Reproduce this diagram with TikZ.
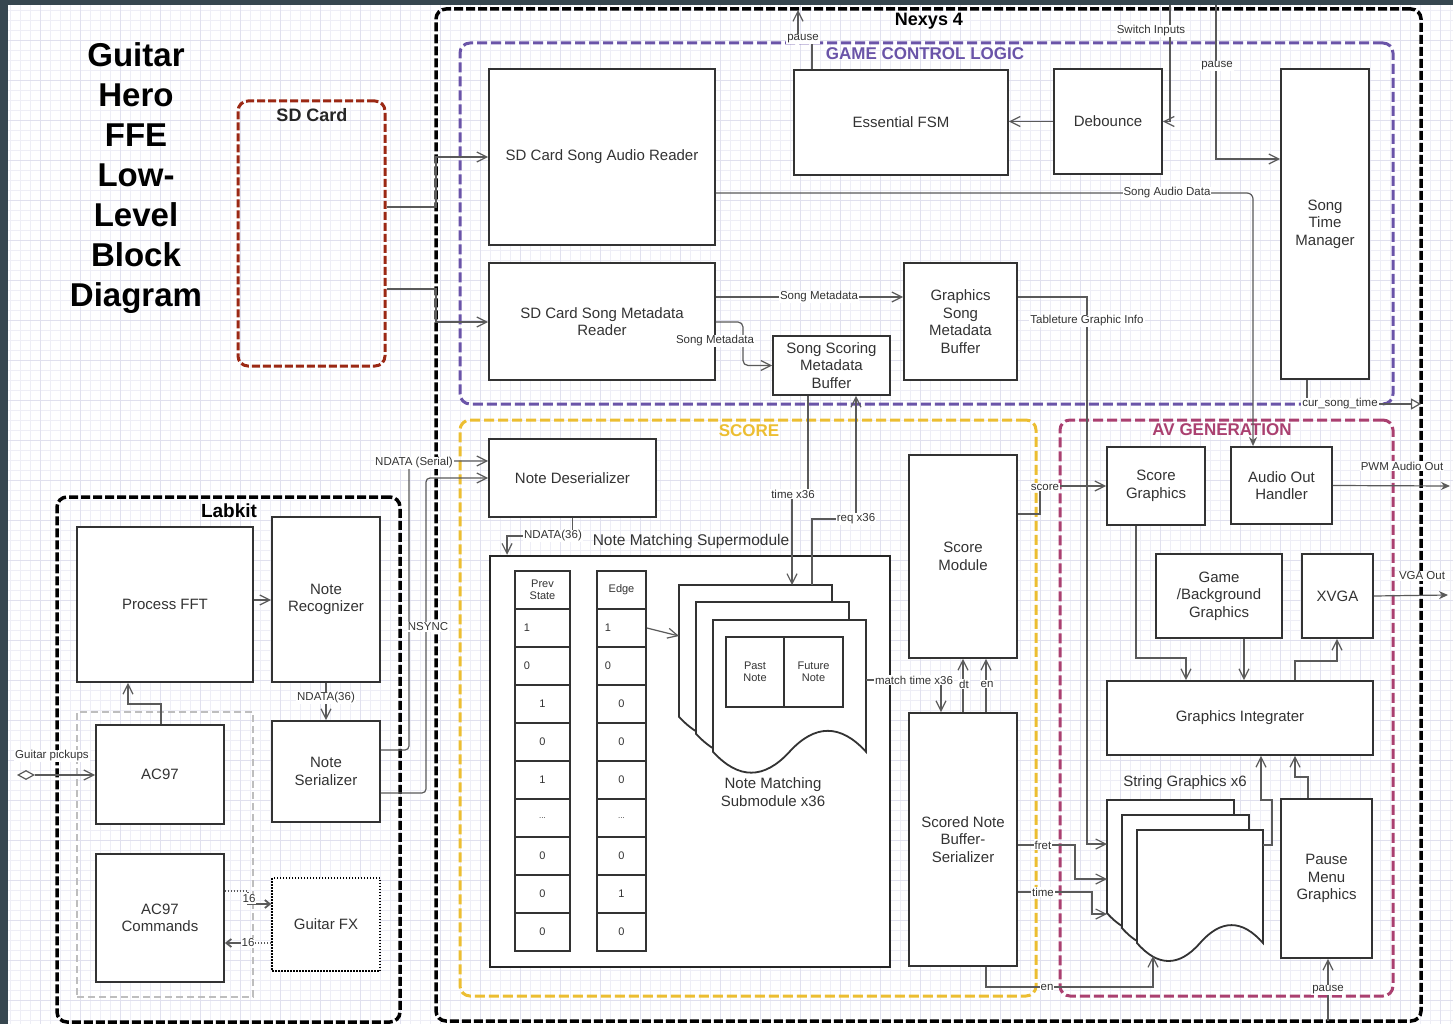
\documentclass[tikz,border=0pt]{standalone}
\usepackage{fontspec}
\setmainfont{Liberation Sans}
\usetikzlibrary{arrows.meta,shapes.geometric}

\definecolor{frame}{RGB}{55,71,79}
\definecolor{gridmin}{RGB}{238,238,246}
\definecolor{gridmaj}{RGB}{224,224,238}
\definecolor{boxc}{RGB}{51,51,51}
\definecolor{wirec}{RGB}{90,90,90}
\definecolor{txt}{RGB}{51,51,51}
\definecolor{gclc}{RGB}{106,84,168}
\definecolor{scorec}{RGB}{236,190,50}
\definecolor{avc}{RGB}{170,64,112}
\definecolor{sdc}{RGB}{155,40,20}
\definecolor{labgray}{RGB}{190,190,190}

% document shape with a wavy bottom: x1, y1, x2, y2
\newcommand{\wavedoc}[4]{%
  \pgfmathsetmacro{\wdw}{#3-#1}%
  \pgfmathsetmacro{\wddy}{0.3*(#4-#2)}%
  \pgfmathsetmacro{\wde}{#4-0.5*\wddy}%
  \pgfmathsetmacro{\wdm}{(#1+#3)/2}%
  \filldraw[doc] (#1,#2) -- (#3,#2) -- (#3,\wde)
    .. controls ({#3-\wdw/6},{\wde-0.6*\wddy}) and ({\wdm+\wdw/6},{\wde-0.6*\wddy}) .. (\wdm,\wde)
    .. controls ({\wdm-\wdw/6},{\wde+0.6*\wddy}) and ({#1+\wdw/6},{\wde+0.6*\wddy}) .. (#1,\wde) -- cycle;}
\newcommand{\celldots}{\fontsize{8}{9}\selectfont...}

\begin{document}
\begin{tikzpicture}[x=1pt, y=-1pt,
  box/.style={draw=boxc, line width=1.8pt, fill=white, text=txt,
              align=center, inner sep=2pt, font=\fontsize{15}{17.5}\selectfont},
  sz/.style 2 args={minimum width=#1, minimum height=#2},
  grp/.style={draw, rounded corners=10pt, line width=3pt, inner sep=0pt,
              dash pattern=on 10pt off 4pt},
  cell/.style={draw=boxc, line width=1.8pt, fill=white, minimum height=38,
               inner sep=0pt, text=txt, align=center, font=\fontsize{11}{12.5}\selectfont},
  val/.style={font=\fontsize{11}{13}\selectfont, text=txt, inner sep=0pt},
  doc/.style={draw=boxc, line width=1.8pt, fill=white},
  wire/.style={draw=wirec, line width=1.2pt},
  arr/.style={-{Straight Barb[length=10pt,width=10pt]}},
  arrs/.style={-{Stealth[length=9pt,width=8pt]}},
  arrb/.style={-{Straight Barb[length=5pt,width=8pt,line width=1.8pt]}},
  dots/.style={dash pattern=on 1.5pt off 1.5pt},
  lbl/.style={font=\fontsize{11.5}{13}\selectfont, text=txt, fill=white, inner sep=1pt},
  gtitle/.style={font=\fontsize{17}{20}\selectfont\bfseries},
  ttl/.style={font=\fontsize{33}{40}\selectfont\bfseries, align=center}
]
  % background
  \useasboundingbox (0,0) rectangle (1453,1024);
  \fill[white] (0,0) rectangle (1453,1024);
  \draw[gridmin, line width=0.6pt, step=10pt] (0,0) grid (1453,1024);
  \draw[gridmaj, line width=0.7pt, step=40pt] (0,0) grid (1453,1024);
  \fill[frame] (0,0) rectangle (8,1024);
  \fill[frame] (0,0) rectangle (1453,5);

  \node[ttl] (title) at (136,178) {Guitar\\Hero\\FFE\\Low-\\Level\\Block\\Diagram};

  % groups
  \node[grp, draw=black, line width=3.5pt, dash pattern=on 9pt off 3pt, sz={985}{1012}] (nexys) at (928.5,515) {};
  \node[grp, draw=gclc, sz={933}{361}] (gcl) at (926.5,223.5) {};
  \node[grp, draw=scorec, sz={576}{576}] (score) at (748,708) {};
  \node[grp, draw=avc, sz={333}{576}] (av) at (1226.5,708) {};
  \node[grp, draw=black, line width=3.5pt, dash pattern=on 9pt off 3pt, sz={343}{525}] (labkit) at (228.5,759.5) {};
  \node[grp, draw=sdc, dash pattern=on 8pt off 3pt, sz={147}{265}] (sd) at (311.5,233.5) {};
  \node[draw=labgray, line width=1.5pt, dash pattern=on 7pt off 4pt, inner sep=0pt, sz={176}{285}] (acgrp) at (165,854.5) {};

  \node[font=\fontsize{18}{20}\selectfont\bfseries] (nxt) at (929,21) {Nexys 4};
  \node[gtitle, text=gclc] (gclt) at (925,54) {GAME CONTROL LOGIC};
  \node[gtitle, text=scorec] (sct) at (749,431) {SCORE};
  \node[gtitle, text=avc] (avt) at (1222,430) {AV GENERATION};
  \node[font=\fontsize{19}{20}\selectfont\bfseries] (lbt) at (229,511) {Labkit};
  \node[font=\fontsize{18}{20}\selectfont\bfseries, text=black!85] (sdt) at (312,115) {SD Card};

  % game control logic
  \node[box, sz={226}{176}] (audrd) at (602,157) {SD Card Song Audio Reader};
  \node[box, sz={226}{117}] (metard) at (602,321.5) {SD Card Song Metadata\\Reader};
  \node[box, sz={214}{105}] (fsm) at (901,122.5) {Essential FSM};
  \node[box, sz={108}{105}] (deb) at (1108,121.5) {Debounce};
  \node[box, sz={88}{310}] (stm) at (1325,224) {Song\\Time\\Manager};
  \node[box, sz={113}{117}] (gsmb) at (960.5,321.5) {Graphics\\Song\\Metadata\\Buffer};
  \node[box, sz={117}{59}] (ssmb) at (831.5,365.5) {Song Scoring\\Metadata\\Buffer};

  % score
  \node[box, sz={167}{78}] (deser) at (572.5,478) {Note Deserializer};
  \node[box, draw=black!85, line width=2.5pt, sz={400}{411}] (nms) at (690,761.5) {};
  \node[font=\fontsize{15.5}{18}\selectfont, text=txt] (nmst) at (691,541) {Note Matching Supermodule};
  \node[box, sz={108}{203}] (scm) at (963,556.5) {Score\\Module};
  \node[box, sz={108}{253}] (snb) at (963,839.5) {Scored Note\\Buffer-\\Serializer};

  \node[cell, minimum width=55] (ph) at (542.5,590) {Prev\\State};
  \node[cell, minimum width=49] (eh) at (621.5,590) {Edge};
  \foreach \pv/\ev [count=\i] in {1/1,0/0,1/0,0/0,1/0,\celldots/\celldots,0/0,0/1,0/0}{
    \pgfmathsetmacro\cy{590+38*\i}
    \node[cell, minimum width=55] (p\i) at (542.5,\cy) {};
    \node[cell, minimum width=49] (e\i) at (621.5,\cy) {};
    \ifnum\i<3
      \node[val] (pv\i) at (527,\cy) {\pv};
      \node[val] (ev\i) at (608,\cy) {\ev};
    \else
      \node[val] (pv\i) at (542.5,\cy) {\pv};
      \node[val] (ev\i) at (621.5,\cy) {\ev};
    \fi
  }

  \wavedoc{679}{585}{832}{740}
  \wavedoc{696}{602}{849}{757}
  \wavedoc{713}{620}{866}{775}
  \node[box, sz={58}{70}, font=\fontsize{11}{12.5}\selectfont] (past) at (755,672) {Past\\Note};
  \node[box, sz={59}{70}, font=\fontsize{11}{12.5}\selectfont] (fut) at (813.5,672) {Future\\Note};
  \node[font=\fontsize{15}{17.5}\selectfont, text=txt, align=center] (nmsub) at (773,792) {Note Matching\\Submodule x36};
  \coordinate (subtop) at (792,585);
  \coordinate (subreq) at (812,585);
  \coordinate (subin) at (679,636);
  \coordinate (subout) at (866,680);

  % av generation
  \node[box, sz={98}{78}] (scg) at (1156,486) {Score\\Graphics};
  \node[box, sz={101}{77}] (aoh) at (1281.5,485.5) {Audio Out\\Handler};
  \node[box, sz={126}{84}] (gbg) at (1219,596) {Game\\/Background\\Graphics};
  \node[box, sz={71}{84}] (xvga) at (1337.5,596) {XVGA};
  \node[box, sz={266}{74}] (gint) at (1240,718) {Graphics Integrater};
  \node[box, sz={91}{159}] (pmg) at (1326.5,878.5) {Pause\\Menu\\Graphics};
  \wavedoc{1107}{800}{1234}{933}
  \wavedoc{1122}{815}{1249}{948}
  \wavedoc{1137}{830}{1263}{963}
  \node[font=\fontsize{15}{17.5}\selectfont, text=txt] (sgt) at (1185,783) {String Graphics x6};
  \coordinate (sgin) at (1107,844);
  \coordinate (sgfret) at (1107,879);
  \coordinate (sgtime) at (1107,914);
  \coordinate (sgen) at (1153,956);
  \coordinate (sgout) at (1263,845);

  % labkit
  \node[box, sz={176}{155}] (fft) at (165,604.5) {Process FFT};
  \node[box, sz={108}{165}] (nrec) at (326,599.5) {Note\\Recognizer};
  \node[box, sz={128}{99}] (ac97) at (160,774.5) {AC97};
  \node[box, sz={128}{128}] (ac97c) at (160,918) {AC97\\Commands};
  \node[box, sz={108}{101}] (nser) at (326,771.5) {Note\\Serializer};
  \node[box, draw=black, line width=1.5pt, dots, sz={108}{93}] (gfx) at (326,924.5) {Guitar FX};
  \node[diamond, draw=wirec, line width=1.2pt, fill=white, aspect=1.8,
        minimum width=16, minimum height=9, inner sep=0pt] (gp) at (26,775) {};

  % free ends
  \coordinate (swin) at (1170,5);
  \coordinate (pin) at (1216,5);
  \coordinate (pout) at (798,10);
  \coordinate (cst) at (1421,404);
  \coordinate (pbot) at (1328,1021);
  \coordinate (pwm) at (1450,486);
  \coordinate (vga) at (1448,595);

  % connectors
  \draw[wire,arr] (sd.east |- 0,207) -- (436,207) |- (audrd.west);
  \draw[wire,arr] (sd.east |- 0,289) -- (436,289) |- (metard.west |- 0,322);
  \draw[wire,arr] (swin) |- (deb.east);
  \draw[wire,arr] (deb.west) -- (fsm.east |- deb.west);
  \draw[wire,arr] (812,0 |- fsm.north) -- (812,40) -- (798,40) -- (pout);
  \draw[wire,arr] (pin) |- (stm.west |- 0,159);
  \draw[wire,arrs,rounded corners=6pt] (audrd.east |- 0,193) -| (1253,0 |- aoh.north);
  \draw[wire,arr] (metard.east |- 0,297) -- (gsmb.west |- 0,297);
  \draw[wire,arr,rounded corners=5pt] (metard.east |- 0,322) -- (743,322) |- (ssmb.west);
  \draw[wire,arr] (gsmb.east |- 0,297) -| (1087,844) -- (sgin);
  \draw[wire,-{Triangle[open,length=10pt,width=11pt]}] (1307,0 |- stm.south) |- (cst);

  \draw[wire,arr] (808,0 |- ssmb.south) -- (808,494) -- (792,494) -- (subtop);
  \draw[wire,arr] (subreq) -- (812,519) -- (856,519) -- (856,0 |- ssmb.south);
  \draw[wire,arr] (deser.south) |- (507,536) -- (507,0 |- nms.north);
  \draw[wire,arr] (e1.east) -- (subin);
  \draw[wire,arr] (subout) -| (941,0 |- snb.north);
  \draw[wire,arr] (963,0 |- snb.north) -- (963,0 |- scm.south);
  \draw[wire,arr] (986,0 |- snb.north) -- (986,0 |- scm.south);
  \draw[wire,arr] (scm.east |- 0,514) -- (1040,514) |- (scg.west);
  \draw[wire,arr] (snb.east |- 0,845) -- (1075,845) |- (sgfret);
  \draw[wire,arr] (snb.east |- 0,892) -- (1092,892) |- (sgtime);
  \draw[wire,arr] (986,0 |- snb.south) |- (1153,987) -- (sgen);

  \draw[wire,arr] (1136,0 |- scg.south) |- (1186,658) -- (1186,0 |- gint.north);
  \draw[wire,arr] (1244,0 |- gbg.south) -- (1244,0 |- gint.north);
  \draw[wire,arr] (1295,0 |- gint.north) |- (1337,661) -- (1337,0 |- xvga.south);
  \draw[wire,arr] (sgout) -- (1272,845) -- (1272,800) -- (1261,800) -- (1261,0 |- gint.south);
  \draw[wire,arr] (1308,0 |- pmg.north) -- (1308,777) -- (1295,777) -- (1295,0 |- gint.south);
  \draw[wire,arr] (pbot) -- (pbot |- pmg.south);
  \draw[wire,arrs] (aoh.east) -- (pwm);
  \draw[wire,arrs] (xvga.east) -- (vga);

  \draw[wire,arr] (fft.east |- 0,600) -- (nrec.west |- 0,600);
  \draw[wire,arr] (161,0 |- ac97.north) |- (128,704) -- (128,0 |- fft.south);
  \draw[wire,arr] (gp.east) -- (ac97.west |- gp.east);
  \draw[wire,arr] (nrec.south) -- (nser.north);
  \draw[wire,dots] (ac97c.east |- 0,891) -- (248,891) -- (248,904);
  \draw[wire,arrb] (248,904) -- (gfx.west |- 0,904);
  \draw[wire,dots] (gfx.west |- 0,943) -- (248,943);
  \draw[wire,arrb] (248,943) -- (ac97c.east |- 0,943);
  \draw[wire,arr,rounded corners=4pt] (nser.east |- 0,750) -- (409,750) |- (deser.west |- 0,461);
  \draw[wire,arr,rounded corners=4pt] (nser.east |- 0,793) -- (426,793) |- (deser.west |- 0,478);

  % connector labels
  \node[lbl] (lsw) at (1151,31) {Switch Inputs};
  \node[lbl] (lp1) at (1217,66) {pause};
  \node[lbl] (lp2) at (803,39) {pause};
  \node[lbl] (lsad) at (1167,193) {Song Audio Data};
  \node[lbl] (lsm1) at (819,297) {Song Metadata};
  \node[lbl] (lsm2) at (715,341) {Song Metadata};
  \node[lbl] (ltgi) at (1087,321) {Tableture Graphic Info};
  \node[lbl] (lcst) at (1340,404) {cur\_song\_time};
  \node[lbl] (ltx) at (793,494) {time x36};
  \node[lbl] (lrq) at (856,519) {req x36};
  \node[lbl] (lnd) at (553,536) {NDATA(36)};
  \node[lbl] (lmt) at (914,680) {match time x36};
  \node[lbl] (ldt) at (964,684) {dt};
  \node[lbl] (len) at (987,684) {en};
  \node[lbl] (lsc) at (1045,487) {score};
  \node[lbl] (lfr) at (1043,845) {fret};
  \node[lbl] (ltm) at (1043,892) {time};
  \node[lbl] (len2) at (1047,987) {en};
  \node[lbl] (lpwm) at (1402,466) {PWM Audio Out};
  \node[lbl] (lvga) at (1422,576) {VGA Out};
  \node[lbl] (lp3) at (1328,990) {pause};
  \node[lbl] (lgp) at (52,756) {Guitar pickups};
  \node[lbl] (lnd2) at (326,698) {NDATA(36)};
  \node[lbl] (l16a) at (249,899) {16};
  \node[lbl] (l16b) at (248,943) {16};
  \node[lbl] (lser) at (414,463) {NDATA (Serial)};
  \node[lbl] (lsy) at (428,627) {NSYNC};
\end{tikzpicture}
\end{document}
